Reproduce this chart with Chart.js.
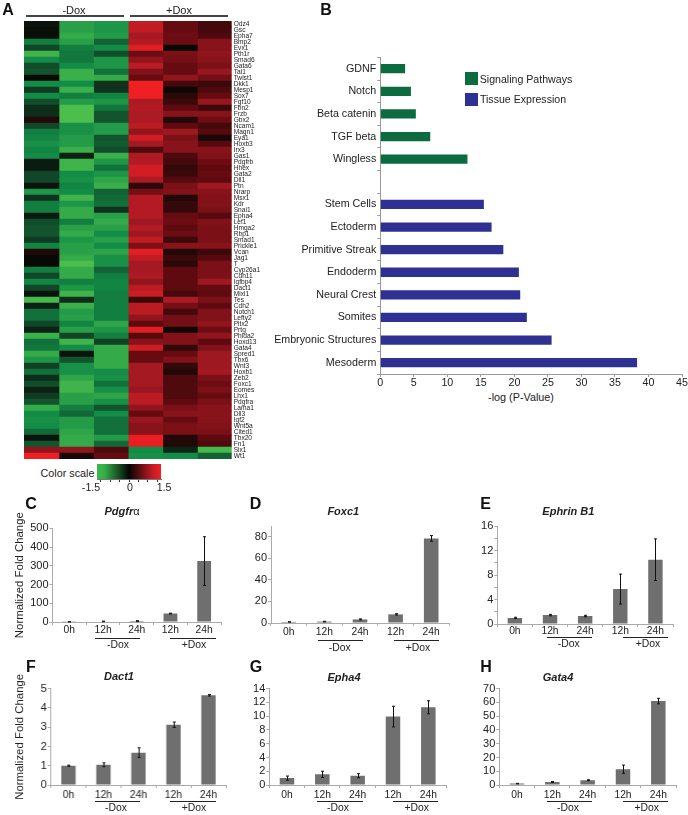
<!DOCTYPE html>
<html><head><meta charset="utf-8">
<script src="https://cdn.jsdelivr.net/npm/chart.js@4"></script>
<style>
html,body{margin:0;padding:0;background:#fff;}
#page{position:relative;width:688px;height:815px;overflow:hidden;background:#fff;font-family:"Liberation Sans",Arial,sans-serif;color:#222;}
canvas{position:absolute;}
.t{position:absolute;white-space:nowrap;transform:translate(-50%,-50%);line-height:1;}
.r{position:absolute;}
</style></head><body><div id="page"></div>
<script>
// ---------- Panel A ----------
const genes=["Odz4","Gsc","Epha7","Bmp2","Evx1","Pth1r","Smad6","Gata6","Tal1","Twist1","Dkk1","Mesp1","Sox7","Fgf10","Fbn2","Frzb","Gbx2","Ncam1","Magn1","Eya1","Hoxb3","Irx3","Gas1","Pdgfrb","Hhex","Gata2","Dll1","Ptn","Nrarp","Msx1","Kdr","Snai1","Epha4","Lef1","Hmga2","Rbp1","Smad1","Prickle1","Vcan","Jag1","T","Cyp26a1","Cdh11","Igfbp4","Dact1","Mixl1","Tes","Cdh2","Notch1","Lefty2","Pitx2","Prtg","Phlda2","Hoxd13","Gata4","Spred1","Tbx6","Wnt3","Hoxb1","Zeb2","Foxc1","Eomes","Lhx1","Pdgfra","Lama1","Dll3","Igf2","Wnt5a","Cited1","Tbx20","Fn1","Six1","Wt1"];
const heatRows=[
[-0.1,-1.2,-1.1,1.2,0.55,0.35],[-0.05,-1.2,-1.1,1.2,0.55,0.35],[-0.05,-1.3,-1.15,1.0,0.6,0.4],[-0.9,-1.2,-0.7,1.1,0.6,0.8],[-0.5,-0.9,-1.0,1.4,0.0,0.8],
[-1.4,-0.85,-0.55,0.6,0.7,0.85],[-1.0,-0.85,-1.1,0.85,0.65,0.8],[-0.55,-1.0,-1.1,1.15,0.55,0.7],[-0.6,-1.35,-0.8,0.75,0.55,0.9],[0.0,-1.35,-1.3,0.55,0.85,0.65],
[-1.0,-1.0,-0.35,1.5,0.35,0.3],[-0.4,-1.35,-0.35,1.5,0.03,0.4],[-1.0,-0.9,-0.95,1.5,0.2,0.55],[-0.55,-1.15,-1.1,1.05,0.3,0.9],[-0.3,-1.5,-0.85,1.1,0.5,0.3],
[-0.3,-1.5,-0.6,1.05,0.8,0.8],[0.15,-1.55,-0.6,1.05,0.15,0.6],[-0.5,-1.05,-1.15,1.15,0.5,0.35],[-0.9,-1.05,-1.15,0.85,0.95,0.45],[-0.95,-1.15,-0.6,1.3,0.7,0.1],
[-1.05,-1.15,-0.65,1.0,0.8,0.45],[-0.95,-1.35,-0.55,0.4,0.8,0.8],[-1.0,-0.2,-1.35,1.05,0.4,0.75],[-0.15,-1.4,-1.1,1.1,0.35,0.6],[-0.15,-1.4,-0.8,1.3,0.25,0.5],
[-0.5,-1.0,-1.1,1.3,0.3,0.55],[-0.5,-1.05,-1.25,1.05,0.45,0.5],[-0.1,-0.95,-1.35,0.2,0.7,0.95],[-1.1,-1.0,-0.7,0.65,0.75,0.8],[-0.35,-1.4,-0.75,1.1,0.15,0.75],
[-0.9,-1.1,-0.8,1.1,0.25,0.75],[-0.9,-1.3,-0.35,1.1,0.25,0.7],[-0.15,-1.3,-1.2,1.1,0.55,0.45],[-0.55,-0.9,-1.3,0.95,0.6,0.75],[-0.6,-1.2,-1.2,1.1,0.5,0.7],
[-0.6,-1.3,-1.0,0.95,0.6,0.7],[-0.4,-1.1,-1.2,1.2,0.3,0.7],[-0.95,-1.2,-1.0,0.7,0.8,0.8],[0.15,-1.2,-1.25,1.4,0.15,0.3],[0,-1.3,-1.05,1.2,0.3,0.45],
[0,-1.5,-1.05,1.0,0.2,0.7],[-0.9,-1.3,-0.7,1.0,0.5,0.7],[-0.5,-1.3,-0.9,1.05,0.5,0.7],[-0.95,-0.9,-0.95,0.85,0.5,0.95],[-0.5,-1.1,-0.95,1.15,0.5,0.55],
[-0.1,-1.4,-0.9,1.25,0.35,0.5],[-1.45,-0.3,-0.9,0.3,1.05,0.7],[-0.2,-1.35,-0.9,1.15,0.65,0.5],[-0.8,-1.15,-0.9,1.15,0.35,0.75],[-0.8,-1.2,-0.9,0.85,0.65,0.75],
[-0.5,-0.95,-1.25,0.5,0.65,0.85],[-0.2,-1.2,-1.1,1.4,0.05,0.6],[-1.35,-0.5,-0.9,0.45,0.75,0.85],[-0.8,-1.4,-0.45,0.8,0.75,0.5],[-0.85,-1.0,-1.3,1.25,0.25,0.75],
[-1.3,-0.1,-1.3,0.55,0.55,0.95],[-1.1,-0.6,-1.3,0.55,0.75,0.95],[-0.45,-1.05,-1.3,1.0,0.25,0.95],[-0.8,-1.05,-1.0,1.0,0.15,1.0],[-0.3,-1.25,-1.05,1.0,0.4,0.7],
[-0.55,-1.4,-0.8,1.0,0.4,0.6],[-0.2,-1.4,-1.05,0.9,0.4,0.7],[-0.4,-1.2,-1.25,1.15,0.4,0.55],[-0.6,-1.2,-1.05,1.15,0.5,0.7],[-1.3,-0.9,-0.6,0.85,0.7,0.8],
[-1.0,-0.75,-1.0,0.55,0.8,0.8],[-1.05,-1.15,-0.8,0.9,0.55,0.8],[-1.0,-1.15,-0.8,0.8,0.7,0.75],[-0.75,-1.25,-0.8,0.8,0.7,0.7],[-0.1,-1.3,-1.15,1.45,0.15,0.5],
[-0.6,-1.3,-0.75,1.45,0.15,0.4],[0.85,0.85,0.4,-1.0,-0.25,-1.45],[1.5,0.1,0.55,-1.05,-1.0,-0.7]];
const scaleTicks=[-1.5,-1,-0.5,0,0.5,1,1.5];
// ---------- Panel B ----------
const termLabels=["GDNF","Notch","Beta catenin","TGF beta","Wingless","","Stem Cells","Ectoderm","Primitive Streak","Endoderm","Neural Crest","Somites","Embryonic Structures","Mesoderm"];
const signalingValues=[3.7,4.57,5.3,7.45,13.0,null,null,null,null,null,null,null,null,null];
const tissueValues=[null,null,null,null,null,null,15.45,16.6,18.35,20.67,20.87,21.86,25.55,38.3];
// ---------- Panels C-H ----------
const timeLabels=["0h","12h","24h","12h","24h"];
const pdgfraValues=[1,3,5,45,325],  pdgfraErr=[0.5,1.5,2,2,130],  pdgfraTicks=[0,100,200,300,400,500];
const foxc1Values=[1,1.3,3.3,8,78.5], foxc1Err=[0.2,0.3,0.5,0.6,2.6], foxc1Ticks=[0,20,40,60,80];
const ephrinValues=[1,1.45,1.3,5.7,10.5], ephrinErr=[0.1,0.12,0.12,2.45,3.4], ephrinTicks=[0,2,4,6,8,10,12,14,16];
const dact1Values=[1,1.05,1.68,3.13,4.66], dact1Err=[0.03,0.1,0.25,0.14,0.04], dact1Ticks=[0,1,2,3,4,5];
const epha4Values=[1,1.55,1.35,9.95,11.3], epha4Err=[0.3,0.45,0.3,1.5,0.95], epha4Ticks=[0,2,4,6,8,10,12,14];
const gata4Values=[1,2.2,3.5,11.5,61], gata4Err=[0.2,0.3,0.3,3,2], gata4Ticks=[0,10,20,30,40,50,60,70];

const FONT='"Liberation Sans",Arial,sans-serif';
Chart.defaults.font.family=FONT;
Chart.defaults.color='#222';
Chart.defaults.animation=false;
const page=document.getElementById('page');
function cv(l,t,w,h){const c=document.createElement('canvas');c.width=w;c.height=h;c.style.cssText=`left:${l}px;top:${t}px;width:${w}px;height:${h}px`;page.appendChild(c);return c;}
function txt(s,x,y,size,extra){const d=document.createElement('div');d.className='t';d.innerHTML=s;d.style.cssText=`left:${x}px;top:${y}px;font-size:${size}px;${extra||''}`;page.appendChild(d);}
function rule(x0,x1,y,color,h){const d=document.createElement('div');d.className='r';d.style.cssText=`left:${x0}px;top:${y}px;width:${x1-x0}px;height:${h||1}px;background:${color||'#222'}`;page.appendChild(d);}

// ---- heat colour ramp
const ramp=[[0,[8,8,5]],[0.5,[95,10,15]],[1,[165,25,35]],[1.5,[238,32,36]]];
const rampG=[[0,[8,8,5]],[0.5,[18,70,40]],[1,[18,140,70]],[1.5,[75,190,75]]];
function heatColor(v){const r=v<0?rampG:ramp;const a=Math.min(Math.abs(v),1.5);
 for(let i=1;i<r.length;i++){if(a<=r[i][0]){const f=(a-r[i-1][0])/(r[i][0]-r[i-1][0]);const c=r[i-1][1].map((p,k)=>Math.round(p+(r[i][1][k]-p)*f));return `rgb(${c})`;}}
 return `rgb(${r[3][1]})`;}

// ---- Panel A heatmap
new Chart(cv(0,15,270,450),{type:'bar',data:{labels:genes,datasets:[0,1,2,3,4,5].map(c=>({
  data:genes.map(()=>[c,c+1.02]),
  backgroundColor:heatRows.map(r=>heatColor(r[c])),
  borderWidth:0,grouped:false,barPercentage:1.06,categoryPercentage:1}))},
 options:{indexAxis:'y',responsive:false,layout:{padding:{left:24,top:4,bottom:4,right:0}},
  plugins:{legend:{display:false},tooltip:{enabled:false}},
  scales:{x:{display:false,min:0,max:6},
   y:{position:'right',afterFit:s=>{s.width=38.3;},border:{display:false},grid:{display:false,drawTicks:false},
      ticks:{autoSkip:false,font:{size:6.6},padding:2,color:'#222'}}}}});
txt('-Dox',74,10,11);txt('+Dox',179,10,11);
rule(26,123.5,15,'#444',1.5);rule(130,227.5,15,'#444',1.5);
txt('<b>A</b>',8,9.5,16,'color:#111');
txt('Color scale',67.5,473,10.8);

// ---- colour scale bar
new Chart(cv(82,460,95,38),{type:'bar',data:{labels:['scale'],datasets:[{data:[[-1.71,1.71]],
  backgroundColor:ctx=>{const a=ctx.chart.chartArea;if(!a)return '#000';const g=ctx.chart.ctx.createLinearGradient(a.left,0,a.right,0);
    g.addColorStop(0,'rgb(60,184,74)');g.addColorStop(0.12,'rgb(50,175,70)');g.addColorStop(0.5,'rgb(5,5,5)');g.addColorStop(0.88,'rgb(200,28,34)');g.addColorStop(1,'rgb(238,32,36)');return g;},
  borderWidth:0,barPercentage:1,categoryPercentage:1}]},
 options:{indexAxis:'y',responsive:false,layout:{padding:{left:15,right:16,top:4,bottom:0}},
  plugins:{legend:{display:false},tooltip:{enabled:false}},
  scales:{y:{display:false},
   x:{min:-1.71,max:1.71,afterBuildTicks:s=>{s.ticks=scaleTicks.map(v=>({value:v}));},afterFit:s=>{s.height=19;},
      border:{color:'#777'},grid:{drawOnChartArea:false,tickLength:3,color:'#333'},
      ticks:{autoSkip:false,maxRotation:0,font:{size:10.5},padding:1,callback:()=>''}}}}});
txt('-1.5',91,487,10.6);txt('0',130,487,10.6);txt('1.5',164,487,10.6);

// ---- Panel B
new Chart(cv(275,50,413,337),{type:'bar',data:{labels:termLabels,datasets:[
  {label:'Signaling Pathways',data:signalingValues,backgroundColor:'#0c6b3f',borderWidth:0,barPercentage:0.41,categoryPercentage:1},
  {label:'Tissue Expression',data:tissueValues,backgroundColor:'#2e3192',borderWidth:0,barPercentage:0.41,categoryPercentage:1}]},
 options:{indexAxis:'y',responsive:false,layout:{padding:{left:0,top:6,right:6,bottom:0}},
  plugins:{legend:{display:false},tooltip:{enabled:false}},
  scales:{y:{stacked:true,afterFit:s=>{s.width=105.3;},border:{color:'#999'},grid:{drawOnChartArea:false,tickLength:3,color:'#999'},
      ticks:{autoSkip:false,font:{size:10.7},padding:1,color:'#222'}},
   x:{stacked:true,min:0,max:45,afterFit:s=>{s.height=13;},border:{color:'#999'},grid:{drawOnChartArea:false,tickLength:3,color:'#999'},
      ticks:{stepSize:5,font:{size:10.7},padding:0,maxRotation:0,color:'#222'}}}}});
txt('<b>B</b>',326,9.5,16,'color:#111');
txt('-log (P-Value)',521,397,10.8);
const sw=(y,c)=>{const d=document.createElement('div');d.className='r';d.style.cssText=`left:465px;top:${y}px;width:13px;height:13px;background:${c}`;page.appendChild(d);};
sw(72,'#0c6b3f');sw(92.5,'#2e3192');
txt('Signaling Pathways',526,78.5,10.6);txt('Tissue Expression',523,99,10.6);

// ---- Panels C-H
const errorBars={id:'errorBars',afterDatasetsDraw(ch,_a,o){const {ctx,scales:{x,y}}=ch;ctx.save();ctx.strokeStyle='#111';ctx.lineWidth=1;
  ch.data.datasets[0].data.forEach((v,i)=>{const px=Math.round(x.getPixelForValue(i))+0.5,hi=y.getPixelForValue(v+o.err[i]),lo=y.getPixelForValue(v-o.err[i]);
    ctx.beginPath();ctx.moveTo(px,hi);ctx.lineTo(px,lo);ctx.moveTo(px-1.5,hi);ctx.lineTo(px+1.5,hi);ctx.moveTo(px-1.5,lo);ctx.lineTo(px+1.5,lo);ctx.stroke();});ctx.restore();}};
function barPanel(p){
 const yW=p.left-p.cL, xH=22, top=24, bot=6;
 const c=cv(p.cL,Math.floor(p.top)-top,p.right-p.cL+8,Math.ceil(p.bottom-p.top)+top+xH+bot);
 new Chart(c,{type:'bar',plugins:[errorBars],data:{labels:timeLabels,datasets:[{data:p.values,backgroundColor:'#6f6f6f',borderWidth:0,barPercentage:0.41,categoryPercentage:1}]},
  options:{responsive:false,layout:{padding:{left:0,top:top+(p.top-Math.floor(p.top)),right:8,bottom:bot}},
   plugins:{legend:{display:false},tooltip:{enabled:false},errorBars:{err:p.err}},
   scales:{x:{afterFit:s=>{s.height=xH;},border:{color:'#aaa'},grid:{drawOnChartArea:false,tickLength:3,color:'#aaa'},
       ticks:{font:{size:10.3},padding:p.xPad??0,autoSkip:false,maxRotation:0,color:'#222'}},
    y:{min:0,max:p.max,afterBuildTicks:s=>{s.ticks=p.ticks.map(v=>({value:v}));},afterFit:s=>{s.width=yW;},border:{color:'#aaa'},grid:{drawOnChartArea:false,tickLength:3,color:'#aaa'},
       title:{display:!!p.yTitle,text:p.yTitle,font:{size:11.4},padding:{top:13,bottom:0},color:'#222'},
       ticks:{autoSkip:false,font:{size:11},padding:1,color:'#222',callback:v=>(p.labelEvery?(v%p.labelEvery===0?v:''):v)}}}}});
 txt(`<b>${p.letter}</b>`,p.lx,p.ly,16,'color:#111');
 txt(p.title,p.tx,p.ty,11,'font-weight:bold;font-style:italic');
 rule(p.g1[0],p.g1[1],p.gy,'#222');rule(p.g2[0],p.g2[1],p.gy,'#222');
 txt('-Dox',p.d1,p.dy,10.4);txt('+Dox',p.d2,p.dy,10.4);
}
const YT='Normalized Fold Change';
barPanel({letter:'C',lx:31,ly:504,title:'Pdgfr<span style="font-weight:normal;font-style:normal">α</span>',tx:122,ty:510.7,cL:0,left:52.5,right:221,top:528.3,bottom:622.3,max:500,ticks:pdgfraTicks,values:pdgfraValues,err:pdgfraErr,yTitle:YT,g1:[95,140],g2:[170,215.7],gy:638,d1:118,d2:194,dy:645,xPad:-1});
barPanel({letter:'D',lx:255.5,ly:504,title:'Foxc1',tx:343.3,ty:510.7,cL:240,left:271,right:449,top:526,bottom:622.7,max:90,ticks:foxc1Ticks,values:foxc1Values,err:foxc1Err,g1:[318.3,363.3],g2:[393.7,438.7],gy:639.5,d1:339.7,d2:418,dy:647.7});
barPanel({letter:'E',lx:485.5,ly:504,title:'Ephrin B1',tx:568.3,ty:510.7,cL:470,left:497.3,right:673.3,top:526,bottom:623.3,max:16,ticks:ephrinTicks,labelEvery:4,values:ephrinValues,err:ephrinErr,g1:[547.3,592.3],g2:[623.3,668.3],gy:636.5,d1:568.7,d2:648,dy:643.7,xPad:-2});
barPanel({letter:'F',lx:31,ly:667,title:'Dact1',tx:119,ty:676,cL:0,left:50.7,right:225.7,top:688.7,bottom:785,max:5,ticks:dact1Ticks,values:dact1Values,err:dact1Err,yTitle:YT,g1:[95,140],g2:[170,215.7],gy:801,d1:116,d2:194,dy:808,xPad:1});
barPanel({letter:'G',lx:256,ly:667,title:'Epha4',tx:344,ty:677,cL:240,left:269.3,right:446,top:688.7,bottom:785.3,max:14,ticks:epha4Ticks,values:epha4Values,err:epha4Err,g1:[317.3,362.7],g2:[392.7,437.7],gy:801,d1:338,d2:416.7,dy:808,xPad:1});
barPanel({letter:'H',lx:486,ly:667,title:'Gata4',tx:558,ty:677,cL:470,left:499.3,right:676.3,top:688.7,bottom:785.3,max:70,ticks:gata4Ticks,values:gata4Values,err:gata4Err,g1:[547.3,592.3],g2:[622.7,667.7],gy:801,d1:568,d2:646.7,dy:808,xPad:1});
</script></body></html>
